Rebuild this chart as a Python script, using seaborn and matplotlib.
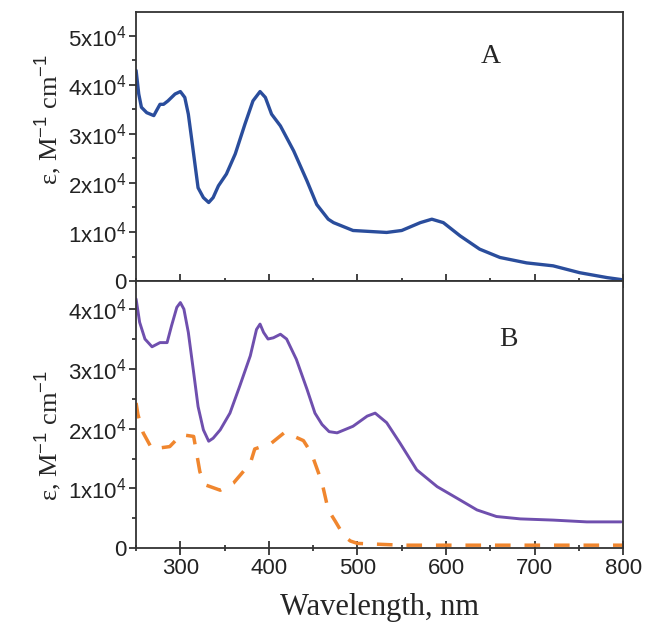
import numpy as np
import pandas as pd
import matplotlib
matplotlib.use("Agg")
import matplotlib.pyplot as plt
from matplotlib.ticker import MultipleLocator, FuncFormatter
import seaborn as sns

# panel A - blue spectrum
wl_a = [250, 253, 256, 262, 270, 273, 277, 281, 286, 294, 300, 305, 309, 313, 317,
        320, 326, 332, 337, 343, 352, 362, 373, 382, 390, 396, 403, 413, 428, 443,
        454, 467, 473, 495, 533, 550, 571, 584, 597, 616, 638, 661, 691, 721, 751,
        782, 798]
eps_a = [4.29e4, 3.81e4, 3.54e4, 3.43e4, 3.37e4, 3.47e4, 3.60e4, 3.60e4, 3.67e4, 3.81e4,
         3.86e4, 3.74e4, 3.40e4, 2.86e4, 2.31e4, 1.90e4, 1.70e4, 1.60e4, 1.70e4, 1.94e4,
         2.18e4, 2.59e4, 3.20e4, 3.67e4, 3.86e4, 3.74e4, 3.40e4, 3.16e4, 2.65e4, 2.04e4,
         1.56e4, 1.26e4, 1.19e4, 1.03e4, 0.99e4, 1.03e4, 1.19e4, 1.26e4, 1.19e4, 0.92e4,
         0.65e4, 0.48e4, 0.37e4, 0.31e4, 0.17e4, 0.07e4, 0.03e4]

# panel B - purple spectrum
wl_b = [250, 254, 260, 268, 277, 285, 290, 296, 300, 304, 309, 315, 320, 326, 332,
        337, 345, 356, 367, 379, 386, 390, 394, 399, 405, 413, 420, 431, 443, 452,
        460, 468, 477, 495, 511, 520, 533, 548, 567, 590, 612, 635, 657, 684, 721,
        759, 798]
eps_b = [4.17e4, 3.78e4, 3.50e4, 3.37e4, 3.44e4, 3.44e4, 3.72e4, 4.03e4, 4.11e4, 4.00e4,
         3.61e4, 2.94e4, 2.37e4, 1.98e4, 1.79e4, 1.84e4, 1.98e4, 2.26e4, 2.71e4, 3.22e4,
         3.66e4, 3.75e4, 3.61e4, 3.50e4, 3.52e4, 3.58e4, 3.50e4, 3.16e4, 2.66e4, 2.26e4,
         2.07e4, 1.95e4, 1.93e4, 2.04e4, 2.21e4, 2.26e4, 2.10e4, 1.76e4, 1.31e4, 1.03e4,
         0.84e4, 0.64e4, 0.53e4, 0.49e4, 0.47e4, 0.44e4, 0.44e4]

# panel B - orange dashed spectrum
wl_c = [250, 252, 258, 268, 288, 301, 315, 318, 322, 328, 345, 360, 379, 384, 403,
        418, 439, 448, 456, 461, 467, 475, 485, 492, 500, 550, 650, 800]
eps_c = [2.43e4, 2.24e4, 1.93e4, 1.66e4, 1.70e4, 1.90e4, 1.87e4, 1.62e4, 1.28e4, 1.06e4,
         0.97e4, 1.09e4, 1.42e4, 1.66e4, 1.76e4, 1.94e4, 1.80e4, 1.59e4, 1.26e4, 1.03e4,
         0.64e4, 0.45e4, 0.20e4, 0.12e4, 0.08e4, 0.05e4, 0.05e4, 0.05e4]

sns.set_style("ticks")
plt.rcParams["font.family"] = ["Liberation Sans", "DejaVu Sans"]
plt.rcParams["mathtext.fontset"] = "custom"
plt.rcParams["mathtext.rm"] = "Liberation Sans"
plt.rcParams["mathtext.it"] = "Liberation Sans:italic"

fig = plt.figure(figsize=(6.45, 6.33), dpi=100)
ax_a = fig.add_axes([0.211, 0.556, 0.755, 0.425])
ax_b = fig.add_axes([0.211, 0.134, 0.755, 0.422], sharex=ax_a)

sns.lineplot(x=wl_a, y=eps_a, ax=ax_a, color="#2a4d9c", linewidth=2.4)
sns.lineplot(x=wl_b, y=eps_b, ax=ax_b, color="#6f4fae", linewidth=2.1)
sns.lineplot(x=wl_c, y=eps_c, ax=ax_b, color="#f0862e", linewidth=2.5)
ax_b.lines[-1].set_dashes((4.5, 4))


def sci_fmt(v, pos):
    if abs(v) < 1:
        return "0"
    return "%dx10$^{4}$" % round(v / 1e4)


serif = ["Liberation Serif", "DejaVu Serif"]
ylab = "\u03b5, M$^{-1}$ cm$^{-1}$"

for ax, top in ((ax_a, 5.48e4), (ax_b, 4.47e4)):
    ax.set_xlim(250, 800)
    ax.set_ylim(0, top)
    ax.xaxis.set_major_locator(MultipleLocator(100))
    ax.xaxis.set_minor_locator(MultipleLocator(50))
    ax.yaxis.set_major_locator(MultipleLocator(1e4))
    ax.yaxis.set_minor_locator(MultipleLocator(5e3))
    ax.yaxis.set_major_formatter(FuncFormatter(sci_fmt))
    ax.tick_params(axis="x", which="major", direction="inout", length=10, width=1.2)
    ax.tick_params(axis="x", which="minor", direction="inout", length=5, width=1.2)
    ax.tick_params(axis="y", which="major", direction="out", length=5, width=1.2)
    ax.tick_params(axis="y", which="minor", direction="out", length=3, width=1.2)
    ax.tick_params(labelsize=16, colors="#222222", pad=2)
    for s in ax.spines.values():
        s.set_visible(True)
        s.set_linewidth(1.3)
        s.set_color("#333333")
    ax.set_ylabel(ylab, fontsize=19, family=serif)

ax_a.yaxis.set_label_coords(-0.148, 0.60)
ax_b.yaxis.set_label_coords(-0.148, 0.42)

ax_a.tick_params(axis="x", labelbottom=False)
ax_b.set_xlabel("Wavelength, nm", fontsize=22, family=serif, labelpad=10)

ax_a.text(650, 4.57e4, "A", fontsize=20, family=serif, ha="center", va="center")
ax_b.text(671, 3.5e4, "B", fontsize=20, family=serif, ha="center", va="center")

fig.savefig("out.png", dpi=100)
